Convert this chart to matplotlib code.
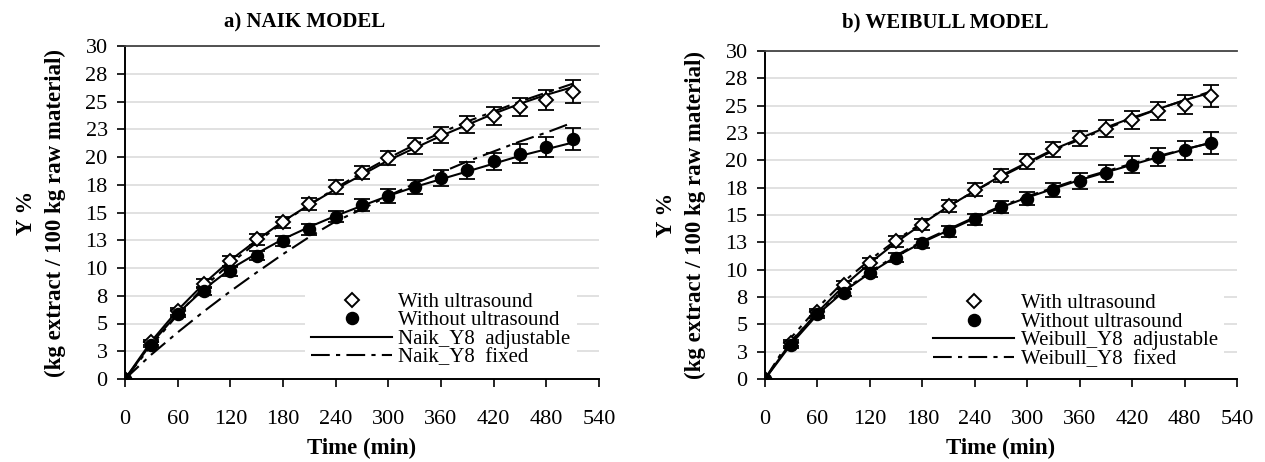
import numpy as np
import matplotlib
matplotlib.use('Agg')
import matplotlib.pyplot as plt

# ---------------- data ----------------
time_min = [0, 30, 60, 90, 120, 150, 180, 210, 240, 270, 300, 330, 360, 390, 420, 450, 480, 510]

with_us = [0, 3.3, 6.1, 8.6, 10.6, 12.6, 14.1, 15.8, 17.3, 18.6, 19.9, 21.0, 22.0, 22.9, 23.7, 24.5, 25.1, 25.9]
with_us_err = [0, 0.25, 0.3, 0.4, 0.45, 0.5, 0.5, 0.55, 0.6, 0.6, 0.65, 0.7, 0.7, 0.75, 0.8, 0.85, 0.9, 1.0]
without_us = [0, 3.1, 5.9, 7.9, 9.7, 11.1, 12.4, 13.5, 14.6, 15.7, 16.5, 17.3, 18.1, 18.8, 19.6, 20.3, 20.9, 21.6]
without_us_err = [0, 0.25, 0.3, 0.35, 0.4, 0.4, 0.45, 0.5, 0.5, 0.55, 0.6, 0.65, 0.7, 0.75, 0.8, 0.85, 0.9, 1.0]

naik_adj_with = [0, 3.4, 6.2, 8.6, 10.7, 12.5, 14.2, 15.7, 17.1, 18.4, 19.7, 20.8, 21.9, 22.9, 23.9, 24.8, 25.6, 26.3]
naik_adj_without = [0, 3.2, 5.9, 8.1, 9.9, 11.3, 12.6, 13.7, 14.7, 15.6, 16.5, 17.3, 18.0, 18.7, 19.4, 20.1, 20.7, 21.3]
naik_fix_with = [0, 3.0, 5.8, 8.3, 10.4, 12.3, 14.1, 15.7, 17.2, 18.6, 19.9, 21.1, 22.2, 23.2, 24.1, 25.0, 25.8, 26.6]
naik_fix_without = [0, 2.2, 4.2, 6.1, 7.9, 9.6, 11.25, 12.8, 14.2, 15.3, 16.5, 17.6, 18.6, 19.6, 20.5, 21.4, 22.2, 23.1]

weib_adj_with = [0, 3.4, 6.1, 8.5, 10.6, 12.5, 14.2, 15.8, 17.2, 18.6, 19.8, 21.0, 22.0, 23.0, 23.9, 24.7, 25.5, 26.2]
weib_adj_without = [0, 3.2, 5.9, 8.0, 9.7, 11.2, 12.5, 13.6, 14.7, 15.7, 16.6, 17.4, 18.2, 18.9, 19.6, 20.3, 21.0, 21.6]
weib_fix_with = [0, 3.8, 6.5, 8.9, 10.9, 12.7, 14.3, 15.8, 17.2, 18.5, 19.7, 20.9, 21.9, 22.9, 23.8, 24.7, 25.5, 26.3]
weib_fix_without = [0, 3.5, 6.0, 8.1, 9.8, 11.3, 12.6, 13.7, 14.8, 15.8, 16.7, 17.5, 18.3, 19.0, 19.7, 20.4, 21.0, 21.6]

x_ticks = [0, 60, 120, 180, 240, 300, 360, 420, 480, 540]
y_ticks = [0, 2.5, 5, 7.5, 10, 12.5, 15, 17.5, 20, 22.5, 25, 27.5, 30]
y_tick_labels = ['0', '3', '5', '8', '10', '13', '15', '18', '20', '23', '25', '28', '30']

titles = ['a) NAIK MODEL', 'b) WEIBULL MODEL']
model_names = ['Naik_Y8', 'Weibull_Y8']
ylabel = 'Y %\n(kg extract / 100 kg raw material)'
xlabel = 'Time (min)'

# ---------------- style ----------------
plt.rcParams['font.family'] = ['Liberation Serif', 'DejaVu Serif']

W, H = 1265, 462
fig = plt.figure(figsize=(W / 100, H / 100), dpi=100)

def px_axes(l, t, r, b):
    return fig.add_axes([l / W, 1 - b / H, (r - l) / W, (b - t) / H])

ax_a = px_axes(125, 46, 599, 379)
ax_b = px_axes(765, 51, 1237, 379)

panels = [
    (ax_a, naik_adj_with, naik_adj_without, naik_fix_with, naik_fix_without, 0.379, 305),
    (ax_b, weib_adj_with, weib_adj_without, weib_fix_with, weib_fix_without, 0.343, 945),
]

dashdot = (0, (9, 3, 2, 3))

for i, (ax, adj_w, adj_wo, fix_w, fix_wo, leg_x, title_x) in enumerate(panels):
    ax.set_xlim(0, 540)
    ax.set_ylim(0, 30)
    ax.set_xticks(x_ticks)
    ax.set_yticks(y_ticks)
    ax.set_yticklabels(y_tick_labels)
    ax.tick_params(axis='both', direction='out', labelsize=16, width=1.2, color='black')
    ax.tick_params(axis='y', length=5.5, pad=7)
    ax.tick_params(axis='x', length=6, pad=16)
    ax.spines['right'].set_visible(False)
    ax.spines['top'].set_color('#444444')
    ax.spines['top'].set_linewidth(1.3)
    ax.spines['left'].set_linewidth(1.4)
    ax.spines['bottom'].set_linewidth(1.4)
    ax.grid(axis='y', color='#d9d9d9', linewidth=1.1, zorder=0)
    ax.set_axisbelow(True)

    # model lines
    l_adj, = ax.plot(time_min, adj_w, color='black', lw=1.5, zorder=3,
                     label=f'{model_names[i]}  adjustable')
    ax.plot(time_min, adj_wo, color='black', lw=1.5, zorder=3)
    l_fix, = ax.plot(time_min, fix_w, color='black', lw=1.5, ls=dashdot, zorder=3,
                     label=f'{model_names[i]}  fixed')
    ax.plot(time_min, fix_wo, color='black', lw=1.5, ls=dashdot, zorder=3)

    # error bars
    ax.errorbar(time_min, with_us, yerr=with_us_err, fmt='none', ecolor='black',
                elinewidth=1.3, capsize=5.5, capthick=1.3, zorder=4)
    ax.errorbar(time_min, without_us, yerr=without_us_err, fmt='none', ecolor='black',
                elinewidth=1.3, capsize=5.5, capthick=1.3, zorder=4)

    # markers
    m_w, = ax.plot(time_min, with_us, ls='none', marker='D', ms=6.8, mfc='white',
                   mec='black', mew=1.4, zorder=5, label='With ultrasound')
    m_wo, = ax.plot(time_min, without_us, ls='none', marker='o', ms=8.7, mfc='black',
                    mec='black', zorder=5, label='Without ultrasound')

    leg = ax.legend(handles=[m_w, m_wo, l_adj, l_fix], loc='upper left',
                    bbox_to_anchor=(leg_x, 0.279), fontsize=15, frameon=True,
                    facecolor='white', edgecolor='none', framealpha=1,
                    fancybox=False, borderpad=0.3, borderaxespad=0,
                    handlelength=3.9, handletextpad=0.3, labelspacing=-0.05,
                    numpoints=1)
    leg.set_zorder(6)

    ax.set_xlabel(xlabel, fontsize=16.5, fontweight='bold', labelpad=7)
    ax.set_ylabel(ylabel, fontsize=16.5, fontweight='bold', labelpad=14, linespacing=1.5)
    fig.text(title_x / W, 1 - 22 / H, titles[i], ha='center', va='center',
             fontsize=15, fontweight='bold')

fig.savefig('out.png', dpi=100)
